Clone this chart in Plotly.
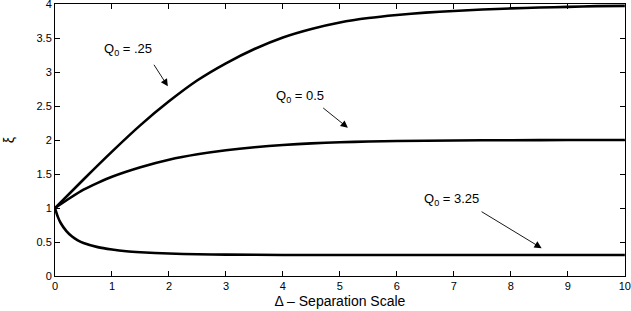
import plotly.graph_objects as go

# Separation scale values (x) and xi values
delta_q025 = [0, 0.5, 1, 1.5, 2, 2.5, 3, 3.5, 4, 4.5, 5, 5.5, 6, 6.5, 7, 7.5, 8, 8.5, 9, 9.5, 10]
xi_q025 = [1.0, 1.42, 1.83, 2.22, 2.57, 2.88, 3.13, 3.34, 3.51, 3.635, 3.73, 3.795, 3.84, 3.875, 3.90,
           3.92, 3.937, 3.95, 3.96, 3.97, 3.975]

delta_q05 = [0, 0.25, 0.5, 0.75, 1, 1.5, 2, 2.5, 3, 3.5, 4, 4.5, 5, 5.5, 6, 7, 8, 9, 10]
xi_q05 = [1.0, 1.14, 1.27, 1.37, 1.46, 1.60, 1.71, 1.79, 1.85, 1.895, 1.928, 1.952, 1.968, 1.979, 1.986,
          1.994, 1.998, 2.0, 2.0]

delta_q325 = [0, 0.05, 0.1, 0.2, 0.3, 0.4, 0.5, 0.75, 1, 1.25, 1.5, 2, 2.5, 3, 4, 5, 6, 8, 10]
xi_q325 = [1.0, 0.87, 0.78, 0.66, 0.58, 0.525, 0.485, 0.425, 0.39, 0.365, 0.35, 0.33, 0.32, 0.314,
           0.31, 0.308, 0.308, 0.308, 0.308]

x_ticks = list(range(0, 11))
y_ticks = [0, 0.5, 1, 1.5, 2, 2.5, 3, 3.5, 4]
y_tick_text = ["0", "0.5", "1", "1.5", "2", "2.5", "3", "3.5", "4"]

FONT = "Liberation Sans, Arial, Helvetica, sans-serif"

fig = go.Figure()
for xs, ys in [(delta_q025, xi_q025), (delta_q05, xi_q05), (delta_q325, xi_q325)]:
    fig.add_trace(go.Scatter(x=xs, y=ys, mode="lines",
                             line=dict(color="black", width=2.6, shape="spline", smoothing=0.6),
                             showlegend=False, hoverinfo="skip", cliponaxis=False))

labels = [
    ("Q<sub>0</sub> = .25", 1.28, 3.33, 1.98, 2.79, 1.72, 3.13),
    ("Q<sub>0</sub> = 0.5", 4.30, 2.64, 5.14, 2.18, 4.68, 2.49),
    ("Q<sub>0</sub> = 3.25", 6.95, 1.13, 8.54, 0.41, 7.46, 0.96),
]
for text, tx, ty, hx, hy, axx, ayy in labels:
    fig.add_annotation(x=tx, y=ty, text=text, showarrow=False, xref="x", yref="y",
                       font=dict(family=FONT, size=13, color="black"))
    fig.add_annotation(x=hx, y=hy, ax=axx, ay=ayy, xref="x", yref="y", axref="x", ayref="y",
                       text="", showarrow=True, arrowhead=2, arrowsize=1.6, arrowwidth=0.9,
                       arrowcolor="black")

axis_common = dict(showline=True, linecolor="black", linewidth=1, mirror="ticks", ticks="inside",
                   ticklen=5, tickcolor="black", tickwidth=1, showgrid=False, zeroline=False,
                   ticklabeloverflow="allow",
                   tickfont=dict(family=FONT, size=11, color="black"))

fig.update_xaxes(range=[0, 10.003], tickvals=x_ticks, ticktext=[str(v) for v in x_ticks],
                 title=dict(text="Δ – Separation Scale", font=dict(family=FONT, size=14, color="black"), standoff=4),
                 **axis_common)
fig.update_yaxes(range=[0, 4.002], tickvals=y_ticks, ticktext=y_tick_text,
                 title=dict(text="ξ", font=dict(family=FONT, size=14, color="black"), standoff=18),
                 **axis_common)

fig.update_layout(width=631, height=311, margin=dict(l=55, r=6, t=4, b=35, autoexpand=False),
                  paper_bgcolor="white", plot_bgcolor="white")

fig.write_html("out.html", config={"displayModeBar": False},
               post_script="document.body.style.margin='0';document.body.style.padding='0';"
                           "document.documentElement.style.overflow='hidden';")
